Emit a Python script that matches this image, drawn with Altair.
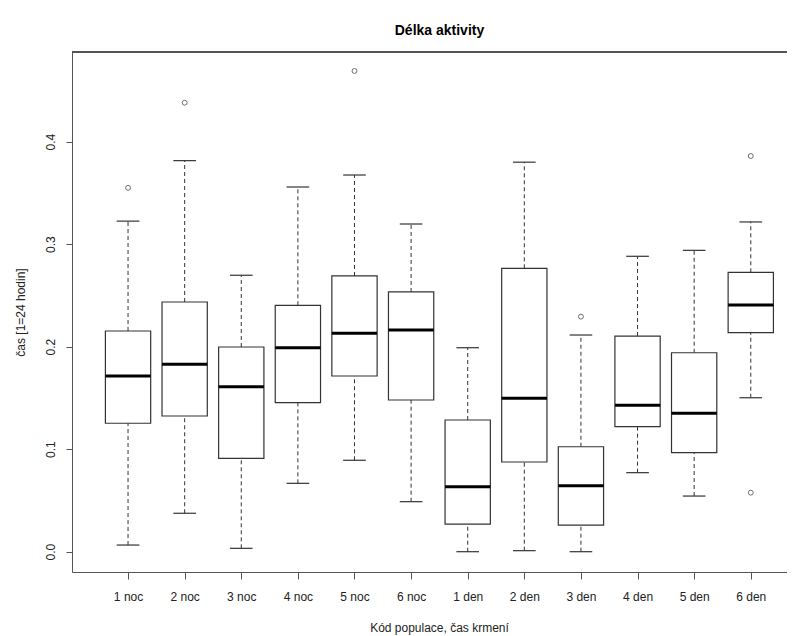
import json
import altair as alt
import pandas as pd

categories = ["1 noc", "2 noc", "3 noc", "4 noc", "5 noc", "6 noc",
              "1 den", "2 den", "3 den", "4 den", "5 den", "6 den"]
whisker_low = [0.0065, 0.0375, 0.0033, 0.0667, 0.0892, 0.0488,
               0.0000, 0.0010, 0.0000, 0.0771, 0.0543, 0.1502]
q1 = [0.1253, 0.1324, 0.0911, 0.1454, 0.1714, 0.1480,
      0.0270, 0.0875, 0.0260, 0.1220, 0.0966, 0.2137]
median = [0.1714, 0.1828, 0.1610, 0.1990, 0.2131, 0.2163,
          0.0634, 0.1497, 0.0644, 0.1428, 0.1350, 0.2407]
q3 = [0.2153, 0.2436, 0.1997, 0.2404, 0.2690, 0.2534,
      0.1285, 0.2765, 0.1024, 0.2104, 0.1941, 0.2726]
whisker_high = [0.3225, 0.3815, 0.2697, 0.3558, 0.3675, 0.3197,
                0.1990, 0.3800, 0.2114, 0.2882, 0.2940, 0.3217]
outlier_cat = ["1 noc", "2 noc", "5 noc", "3 den", "6 den", "6 den"]
outlier_val = [0.355, 0.438, 0.469, 0.2293, 0.386, 0.0576]
y_ticks = [0.0, 0.1, 0.2, 0.3, 0.4]

W, H = 715, 520
FONT = "Liberation Sans"
LINE = "#333333"

df = pd.DataFrame({
    "cat": categories,
    "pos": list(range(1, len(categories) + 1)),
    "lo": whisker_low, "q1": q1, "med": median, "q3": q3, "hi": whisker_high,
})
df_out = pd.DataFrame({
    "pos": [categories.index(c) + 1 for c in outlier_cat],
    "val": outlier_val,
})

xscale = alt.Scale(domain=[0.01, 12.64], nice=False, zero=False)
yscale = alt.Scale(domain=[-0.0198, 0.4875], nice=False, zero=False)

label_expr = json.dumps(categories) + "[datum.value - 1]"
xaxis = alt.Axis(values=df["pos"].tolist(), labelExpr=label_expr, grid=False,
                 title="Kód populace, čas krmení", titleX=367, titleY=55,
                 titleBaseline="middle", titleAlign="center",
                 labelPadding=12, tickSize=7)
yaxis = alt.Axis(values=y_ticks, format=".1f", grid=False,
                 title="čas [1=24 hodin]", titleAngle=270, titleX=-52, titleY=H / 2,
                 titleAlign="center", titleBaseline="middle",
                 labelAngle=270, labelAlign="center", labelBaseline="bottom",
                 labelPadding=9, tickSize=6)


def X(field):
    return alt.X(field, type="quantitative", scale=xscale, axis=xaxis)


def Y(field):
    return alt.Y(field, type="quantitative", scale=yscale, axis=yaxis)


base = alt.Chart(df).transform_calculate(
    xl="datum.pos - 0.4", xr="datum.pos + 0.4",
    cl="datum.pos - 0.2", cr="datum.pos + 0.2",
)

whisk_low = base.mark_rule(color=LINE, strokeWidth=1, strokeDash=[4, 3]).encode(
    x=X("pos"), y=Y("lo"), y2="q1")
whisk_high = base.mark_rule(color=LINE, strokeWidth=1, strokeDash=[4, 3]).encode(
    x=X("pos"), y=Y("q3"), y2="hi")
cap_low = base.mark_rule(color=LINE, strokeWidth=1.2).encode(
    x=X("cl"), x2="cr", y=Y("lo"))
cap_high = base.mark_rule(color=LINE, strokeWidth=1.2).encode(
    x=X("cl"), x2="cr", y=Y("hi"))
boxes = base.mark_rect(fill="white", stroke=LINE, strokeWidth=1.2).encode(
    x=X("xl"), x2="xr", y=Y("q1"), y2="q3")
medians = base.mark_rule(color="black", strokeWidth=3).encode(
    x=X("xl"), x2="xr", y=Y("med"))
outliers = alt.Chart(df_out).mark_point(shape="circle", filled=False, color=LINE,
                                        size=24, strokeWidth=1).encode(
    x=X("pos"), y=Y("val"))
top_line = alt.Chart(df).mark_rule(color="#555555", strokeWidth=1).encode(
    x=alt.value(0), x2=alt.value(W), y=alt.value(0))

chart = alt.layer(
    whisk_low, whisk_high, cap_low, cap_high, boxes, medians, outliers, top_line
).properties(
    width=W, height=H,
    autosize=alt.AutoSizeParams(type="none"),
    padding={"left": 64, "top": 44, "right": 0, "bottom": 64},
    title=alt.TitleParams("Délka aktivity", font=FONT, fontSize=14, fontWeight="bold",
                          color="black", anchor="middle", dx=10, offset=14),
).configure_view(stroke=None).configure_axis(
    domainColor="#555555", tickColor="#555555", labelColor="#222222",
    titleColor="#222222", labelFont=FONT, titleFont=FONT,
    labelFontSize=12, titleFontSize=12, titleFontWeight="normal",
)

chart.save("out.html", embed_options={"renderer": "svg", "actions": False})
